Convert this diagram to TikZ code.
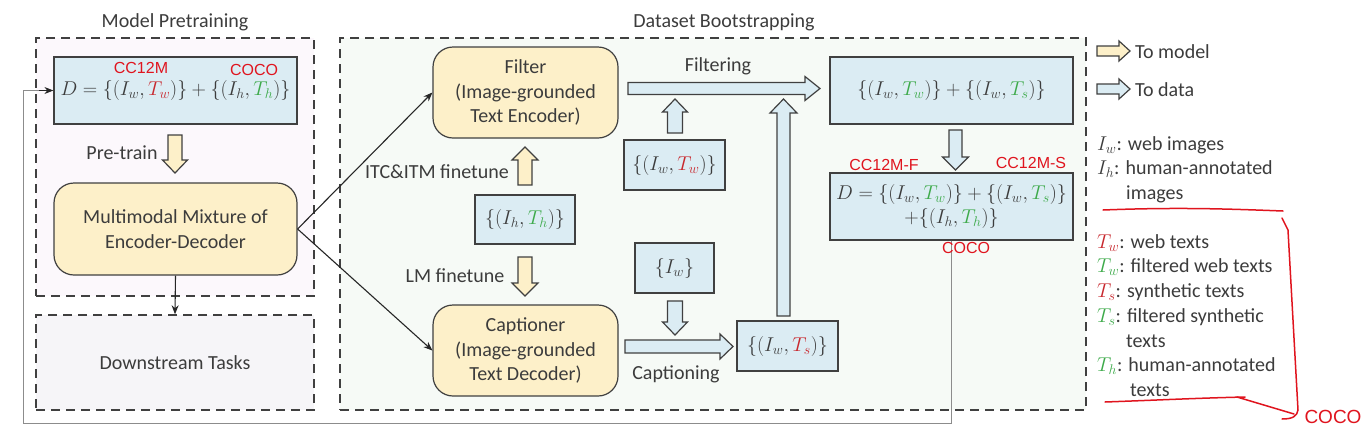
\RequirePackage{fix-cm}
\documentclass[tikz,border=0pt]{standalone}
\usepackage{fontspec}
\setmainfont{Carlito}
\newfontfamily\handfont{Liberation Sans}
\usetikzlibrary{arrows.meta,calc}
\definecolor{txt}{HTML}{3C3C3C}
\definecolor{boxline}{HTML}{404040}
\definecolor{bluebox}{HTML}{DBECF3}
\definecolor{yelbox}{HTML}{FDF0C9}
\definecolor{redT}{HTML}{C8282E}
\definecolor{grnT}{HTML}{3DAA4A}
\definecolor{lfill}{HTML}{FCF8FC}
\definecolor{rfill}{HTML}{F6FAF6}
\definecolor{dfill}{HTML}{F6F5F8}
\definecolor{annotred}{HTML}{E0141E}
\newcommand{\vblock}[7]{\draw[#1] (#2-#5,#3) -- (#2-#5,#7) -- (#2-#6,#7) -- (#2,#4) -- (#2+#6,#7) -- (#2+#5,#7) -- (#2+#5,#3) -- cycle;}
\newcommand{\hblock}[7]{\draw[#1] (#3,#2-#5) -- (#7,#2-#5) -- (#7,#2-#6) -- (#4,#2) -- (#7,#2+#6) -- (#7,#2+#5) -- (#3,#2+#5) -- cycle;}
\begin{document}
\begin{tikzpicture}[x=1pt,y=-1pt,
  every node/.style={text=txt, font=\fontsize{20}{24.5}\selectfont},
  container/.style={draw=boxline, dash pattern=on 9pt off 6pt, line width=1.5pt, inner sep=0},
  bbox/.style={draw=boxline, fill=bluebox, line width=1.2pt, inner sep=0, align=center},
  ybox/.style={draw=boxline, fill=yelbox, rounded corners=20pt, line width=1.2pt, inner sep=0, align=center},
  lbl/.style={inner sep=0},
  leg/.style={inner sep=0, anchor=west, text height=14pt, text depth=4pt},
  conn/.style={draw=black!85, line width=1.1pt, -{Stealth[length=9pt,width=7pt]}},
  fb/.style={draw=black!45, line width=1pt},
  ya/.style={draw=boxline, fill=yelbox, line width=1.2pt},
  ba/.style={draw=boxline, fill=bluebox, line width=1.2pt},
  annot/.style={text=annotred, font=\handfont\fontsize{16}{16}\selectfont, inner sep=0},
  redl/.style={draw=annotred, line width=1.5pt, line cap=round, line join=round}]
\fill[white] (0,0) rectangle (1369,440);
\useasboundingbox (0,0) rectangle (1369,440);

% titles
\node[lbl] (t1) at (175,22) {Model Pretraining};
\node[lbl] (t2) at (724,22) {Dataset Bootstrapping};

% containers
\node[container, fill=lfill, minimum width=278pt, minimum height=258pt] (pre) at (175,167) {};
\node[container, fill=rfill, minimum width=746pt, minimum height=372pt] (boot) at (713,224) {};
\node[container, fill=dfill, minimum width=278pt, minimum height=95pt] (down) at (175,362.5) {Downstream Tasks};

% model pretraining
\node[bbox, minimum width=243pt, minimum height=67pt] (D1) at (175.5,90.5) {$D=\{(I_w,{\color{redT}T_w})\}+\{(I_h,{\color{grnT}T_h})\}$};
\node[ybox, minimum width=243pt, minimum height=92pt] (MM) at (175.5,229) {Multimodal Mixture of\\Encoder-Decoder};
\vblock{ya}{175}{135}{173}{7}{12.5}{160}
\node[lbl] (pt) at (122,153) {Pre-train};

% bootstrapping
\node[ybox, minimum width=185pt, minimum height=91pt] (F) at (525.5,92.5) {Filter\\(Image-grounded\\Text Encoder)};
\node[ybox, minimum width=185pt, minimum height=91pt] (C) at (525.5,350.5) {Captioner\\(Image-grounded\\Text Decoder)};
\node[bbox, minimum width=100pt, minimum height=49pt] (IhTh) at (525,219.5) {$\{(I_h,{\color{grnT}T_h})\}$};
\node[bbox, minimum width=101pt, minimum height=50pt] (IwTw) at (674.5,165) {$\{(I_w,{\color{redT}T_w})\}$};
\node[bbox, minimum width=79pt, minimum height=50pt] (Iw) at (674.5,268) {$\{I_w\}$};
\node[bbox, minimum width=101pt, minimum height=50pt] (IwTs) at (787.5,346) {$\{(I_w,{\color{redT}T_s})\}$};
\node[bbox, minimum width=243pt, minimum height=67pt] (R1) at (951.5,90.5) {$\{(I_w,{\color{grnT}T_w})\}+\{(I_w,{\color{grnT}T_s})\}$};
\node[bbox, minimum width=243pt, minimum height=67pt, font=\fontsize{20}{24}\selectfont] (R2) at (951.5,206.5) {$D=\{(I_w,{\color{grnT}T_w})\}+\{(I_w,{\color{grnT}T_s})\}$\\$+\{(I_h,{\color{grnT}T_h})\}$};

\vblock{ya}{525}{185}{147}{7}{13}{160}
\vblock{ya}{525}{257}{296}{7}{13}{283}
\node[lbl] (itc) at (437,172) {ITC\&ITM finetune};
\node[lbl] (lm) at (455,276) {LM finetune};

\hblock{ba}{88.5}{628}{820}{6}{12}{805}
\node[lbl] (filt) at (718,66) {Filtering};
\vblock{ba}{675}{133}{99}{7.5}{12.5}{112}
\vblock{ba}{675}{301}{335}{7.5}{12.5}{322}
\hblock{ba}{346.5}{625}{733}{6.5}{12.5}{720}
\node[lbl] (capt) at (676,374) {Captioning};
\vblock{ba}{783.5}{316}{99}{6.5}{13.5}{113}
\vblock{ba}{955.5}{130}{170}{6.5}{13}{157}

% thin connectors
\draw[conn] (MM.east) -- (F.west);
\draw[conn] (MM.east) -- (C.west);
\draw[conn] (MM.south) -- (down.north);
\coordinate (fbA) at (23,423);
\draw[fb] (R2.south) |- (fbA) |- ([xshift=-14pt]D1.west);
\draw[conn, line width=0.9pt] ([xshift=-14.5pt]D1.west) -- (D1.west);

% legend
\hblock{ya}{51}{1097}{1130}{5}{10}{1119}
\hblock{ba}{89}{1097}{1130}{5}{10}{1119}
\node[leg] (lm1) at (1135,53) {To model};
\node[leg] (ld1) at (1135,91) {To data};
\node[leg] (g1) at (1097,145) {$I_w$: web images};
\node[leg] (g2) at (1097,169) {$I_h$: human-annotated};
\node[leg] (g3) at (1126,194) {images};
\node[leg] (g4) at (1097,243) {${\color{redT}T_w}$: web texts};
\node[leg] (g5) at (1097,267) {${\color{grnT}T_w}$: filtered web texts};
\node[leg] (g6) at (1097,292) {${\color{redT}T_s}$: synthetic texts};
\node[leg] (g7) at (1097,317) {${\color{grnT}T_s}$: filtered synthetic};
\node[leg] (g8) at (1126,342) {texts};
\node[leg] (g9) at (1097,366) {${\color{grnT}T_h}$: human-annotated};
\node[leg] (g10) at (1130,391) {texts};

% handwritten annotations
\node[annot] (a1) at (141,68) {CC12M};
\node[annot] (a2) at (254,70) {COCO};
\node[annot] (a3) at (884,165) {CC12M-F};
\node[annot] (a4) at (1031,163) {CC12M-S};
\node[annot] (a5) at (966,248) {COCO};
\node[annot, font=\handfont\fontsize{19}{19}\selectfont] (a6) at (1333,417) {COCO};
\draw[redl] (1103,210) .. controls (1180,207) and (1230,209) .. (1283,211);
\draw[redl] (1105,402) .. controls (1160,400) and (1200,398) .. (1245,397);
\draw[redl] (1237,397) -- (1294,414);
\draw[redl] (1282,218) -- (1288,230) -- (1298,410) .. controls (1297,416) and (1293,419) .. (1282,419);
\end{tikzpicture}
\end{document}
